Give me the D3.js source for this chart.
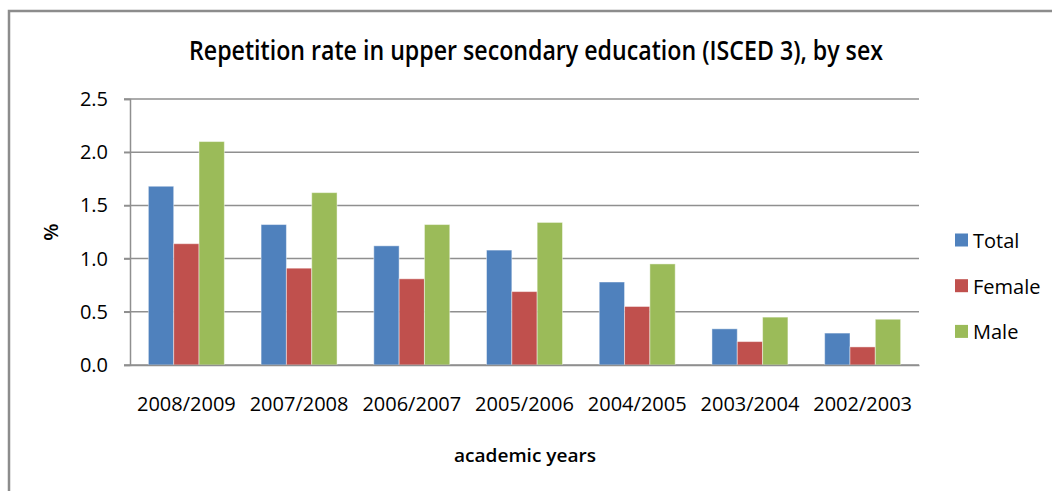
<!DOCTYPE html>
<html>
<head>
<meta charset="utf-8">
<script src="https://cdn.jsdelivr.net/npm/d3@7"></script>
<style>
  body { margin: 0; background: #fff; }
  text { font-family: "Open Sans", sans-serif; fill: #000; }
</style>
</head>
<body>
<svg id="chart" width="1052" height="491"></svg>
<script>
// data
const years = ["2008/2009", "2007/2008", "2006/2007", "2005/2006", "2004/2005", "2003/2004", "2002/2003"];
const series = ["Total", "Female", "Male"];
const total  = [1.68, 1.32, 1.12, 1.08, 0.78, 0.34, 0.30];
const female = [1.14, 0.91, 0.81, 0.69, 0.55, 0.22, 0.17];
const male   = [2.10, 1.62, 1.32, 1.34, 0.95, 0.45, 0.43];
const yTicks = [0, 0.5, 1.0, 1.5, 2.0, 2.5];
const colors = ["#4f81bd", "#c0504d", "#9bbb59"];

const rows = years.map((y, i) => ({year: y, values: [total[i], female[i], male[i]]}));

const svg = d3.select("#chart");
const margin = {top: 99, right: 133, bottom: 126, left: 130};
const width = +svg.attr("width") - margin.left - margin.right;
const height = +svg.attr("height") - margin.top - margin.bottom;

// outer chart border
svg.append("rect")
  .attr("x", 9).attr("y", 11)
  .attr("width", 1060).attr("height", 500)
  .attr("fill", "none")
  .attr("stroke", "#8c8c8c")
  .attr("stroke-width", 2.5);

const g = svg.append("g").attr("transform", `translate(${margin.left}, ${margin.top})`);

const x0 = d3.scaleBand().domain(years).range([0, width]).padding(0);
const gap = x0.bandwidth() * 0.163;
const x1 = d3.scaleBand().domain(series).range([gap, x0.bandwidth() - gap]).padding(0);
const y = d3.scaleLinear().domain([0, 2.5]).range([height, 0]);

// gridlines
g.append("g")
  .selectAll("line")
  .data(yTicks)
  .join("line")
  .attr("x1", -6).attr("x2", width)
  .attr("y1", d => y(d)).attr("y2", d => y(d))
  .attr("stroke", "#8f8f8f")
  .attr("stroke-width", 1.5);

// y axis
const yAxis = g.append("g")
  .call(d3.axisLeft(y).tickValues(yTicks).tickFormat(d3.format(".1f")).tickSize(6).tickPadding(16));
yAxis.select(".domain").attr("stroke", "#8f8f8f").attr("stroke-width", 1.5);
yAxis.selectAll(".tick line").attr("stroke", "#8f8f8f").attr("stroke-width", 1.5);
yAxis.selectAll(".tick text")
  .style("font-family", "'Open Sans', sans-serif")
  .style("font-size", "20px")
  .attr("fill", "#000");

// bars
const groups = g.append("g")
  .selectAll("g")
  .data(rows)
  .join("g")
  .attr("transform", d => `translate(${x0(d.year)}, 0)`);

groups.selectAll("rect")
  .data(d => d.values.map((v, i) => ({key: series[i], value: v, i: i})))
  .join("rect")
  .attr("x", d => x1(d.key))
  .attr("y", d => y(d.value))
  .attr("width", x1.bandwidth())
  .attr("height", d => y(0) - y(d.value))
  .attr("fill", d => colors[d.i])
  .attr("stroke", "rgba(255,255,255,0.45)")
  .attr("stroke-width", 1);

// x axis labels
const xAxis = g.append("g")
  .attr("transform", `translate(0, ${height})`)
  .call(d3.axisBottom(x0).tickSize(0).tickPadding(32));
xAxis.select(".domain").attr("stroke", "#8f8f8f").attr("stroke-width", 1.5);
xAxis.selectAll(".tick text")
  .style("font-family", "'Open Sans', sans-serif")
  .style("font-size", "20px")
  .attr("fill", "#000");

// title
svg.append("text")
  .attr("x", 189).attr("y", 60)
  .attr("textLength", 694)
  .attr("lengthAdjust", "spacingAndGlyphs")
  .style("font-size", "27px")
  .style("font-weight", "600")
  .text("Repetition rate in upper secondary education (ISCED 3), by sex");

// axis titles
svg.append("text")
  .attr("x", 525).attr("y", 462)
  .attr("text-anchor", "middle")
  .attr("textLength", 142)
  .attr("lengthAdjust", "spacingAndGlyphs")
  .style("font-size", "18px")
  .style("font-weight", "600")
  .text("academic years");

svg.append("text")
  .attr("transform", "translate(58, 232) rotate(-90)")
  .attr("text-anchor", "middle")
  .style("font-size", "20px")
  .style("font-weight", "600")
  .text("%");

// legend
const legend = svg.append("g")
  .selectAll("g")
  .data(series)
  .join("g")
  .attr("transform", (d, i) => `translate(955, ${240 + i * 45.7})`);

legend.append("rect")
  .attr("x", 0).attr("y", -6.5)
  .attr("width", 13).attr("height", 13)
  .attr("fill", (d, i) => colors[i]);

legend.append("text")
  .attr("x", 18).attr("y", 8)
  .style("font-size", "20px")
  .text(d => d);
</script>
</body>
</html>
